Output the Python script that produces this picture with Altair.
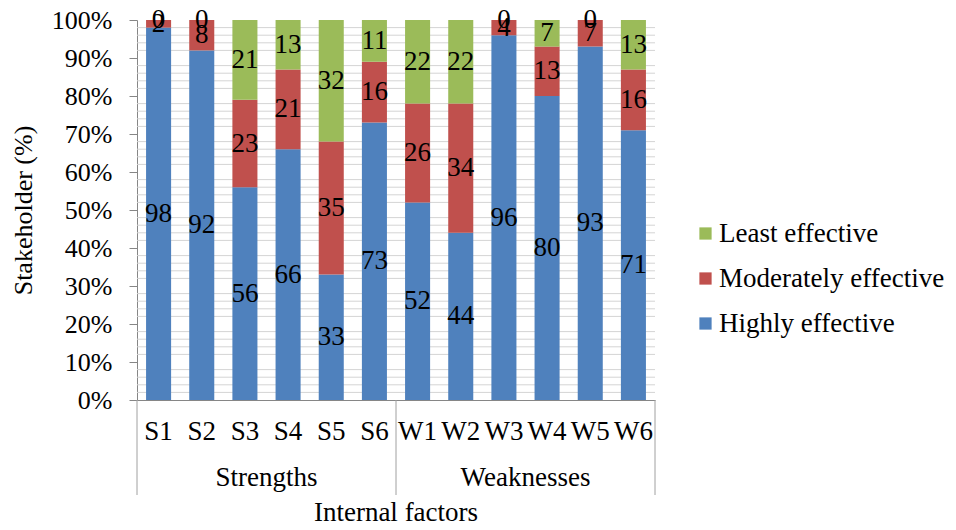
import altair as alt
import pandas as pd

# Internal factors (strengths and weaknesses) and stakeholder ratings in %
factors = ["S1", "S2", "S3", "S4", "S5", "S6", "W1", "W2", "W3", "W4", "W5", "W6"]
groups = ["Strengths"] * 6 + ["Weaknesses"] * 6
highly = [98, 92, 56, 66, 33, 73, 52, 44, 96, 80, 93, 71]
moderately = [2, 8, 23, 21, 35, 16, 26, 34, 4, 13, 7, 16]
least = [0, 0, 21, 13, 32, 11, 22, 22, 0, 7, 0, 13]

levels = ["Least effective", "Moderately effective", "Highly effective"]
level_colors = ["#9BBB59", "#C0504D", "#4F81BD"]
y_ticks = list(range(0, 101, 10))
minor_ticks = [v for v in range(0, 101, 2) if v % 10 != 0]

FONT = "Liberation Serif"
W, H = 518, 380

rows = []
for i, f in enumerate(factors):
    for rank, (lvl, vals) in enumerate(
        [("Highly effective", highly), ("Moderately effective", moderately), ("Least effective", least)]
    ):
        rows.append({"factor": f, "group": groups[i], "level": lvl, "rank": rank, "value": vals[i]})
df = pd.DataFrame(rows)

x_scale = alt.Scale(domain=factors, paddingInner=0, paddingOuter=0)
y_scale = alt.Scale(domain=[0, 100], nice=False)

base = alt.Chart(df).transform_stack(
    stack="value", groupby=["factor"], sort=[alt.SortField("rank", order="ascending")], as_=["y0", "y1"]
).transform_calculate(mid="(datum.y0 + datum.y1) / 2")

# light minor gridlines every 2 %
minor_grid = alt.Chart(pd.DataFrame({"v": minor_ticks})).mark_rule(color="#D4D4D4", strokeWidth=1).encode(
    y=alt.Y("v:Q", scale=y_scale, axis=None),
    x=alt.value(0),
    x2=alt.value(W),
)

bars = base.mark_bar(width=alt.RelativeBandSize(0.58)).encode(
    x=alt.X(
        "factor:N",
        scale=x_scale,
        sort=factors,
        axis=alt.Axis(
            title=None,
            ticks=False,
            labelAngle=0,
            labelFont=FONT,
            labelFontSize=27,
            labelColor="#000000",
            labelPadding=18,
            domainColor="#868686",
            grid=False,
        ),
    ),
    y=alt.Y(
        "y0:Q",
        scale=y_scale,
        axis=alt.Axis(
            orient="left",
            title="Stakeholder (%)",
            values=y_ticks,
            labelExpr="datum.value + '%'",
            labelOverlap=False,
            labelFont=FONT,
            labelFontSize=26,
            labelColor="#000000",
            labelPadding=17,
            tickSize=8,
            tickColor="#868686",
            domainColor="#868686",
            gridColor="#A0A0A0",
            titleFont=FONT,
            titleFontSize=26,
            titleFontWeight="normal",
            titleColor="#000000",
            titlePadding=15,
        ),
    ),
    y2="y1:Q",
    color=alt.Color(
        "level:N",
        scale=alt.Scale(domain=levels, range=level_colors),
        legend=alt.Legend(
            title=None,
            orient="none",
            legendX=555,
            legendY=200,
            symbolType="square",
            symbolSize=150,
            symbolStrokeWidth=0,
            symbolOpacity=1,
            labelFont=FONT,
            labelFontSize=27,
            labelColor="#000000",
            labelOffset=0,
            labelLimit=400,
            rowPadding=17,
        ),
    ),
    order=alt.Order("rank:Q"),
)

labels = base.mark_text(font=FONT, fontSize=27, color="#000000", baseline="middle").encode(
    x=alt.X("factor:N", scale=x_scale, sort=factors),
    y=alt.Y("mid:Q", scale=y_scale, axis=None),
    text="value:Q",
)

group_df = pd.DataFrame({"anchor": ["S3", "W3"], "name": ["Strengths", "Weaknesses"]})
group_labels = alt.Chart(group_df).mark_text(font=FONT, fontSize=27, color="#000000", baseline="middle").encode(
    x=alt.X("anchor:N", scale=x_scale, sort=factors, bandPosition=1),
    y=alt.value(H + 78),
    text="name:N",
)

sep_start = alt.Chart(pd.DataFrame({"anchor": ["S1", "W1"]})).mark_rule(color="#A0A0A0").encode(
    x=alt.X("anchor:N", scale=x_scale, sort=factors, bandPosition=0),
    y=alt.value(H),
    y2=alt.value(H + 95),
)
sep_end = alt.Chart(pd.DataFrame({"anchor": ["W6"]})).mark_rule(color="#A0A0A0").encode(
    x=alt.X("anchor:N", scale=x_scale, sort=factors, bandPosition=1),
    y=alt.value(H),
    y2=alt.value(H + 95),
)

x_title = alt.Chart(pd.DataFrame({"t": ["Internal  factors"]})).mark_text(
    font=FONT, fontSize=27, color="#000000", baseline="middle"
).encode(x=alt.value(W / 2), y=alt.value(H + 113), text="t:N")

chart = (
    alt.layer(minor_grid, bars, labels, group_labels, sep_start, sep_end, x_title)
    .resolve_scale(x="shared", y="shared")
    .resolve_axis(y="independent")
    .properties(
        width=W,
        height=H,
        autosize=alt.AutoSizeParams(type="none"),
        padding={"left": 137, "top": 20, "right": 301, "bottom": 130},
        background="#FFFFFF",
    )
    .configure_view(stroke=None)
)

chart.save("out.html", embed_options={"renderer": "svg", "actions": False})
